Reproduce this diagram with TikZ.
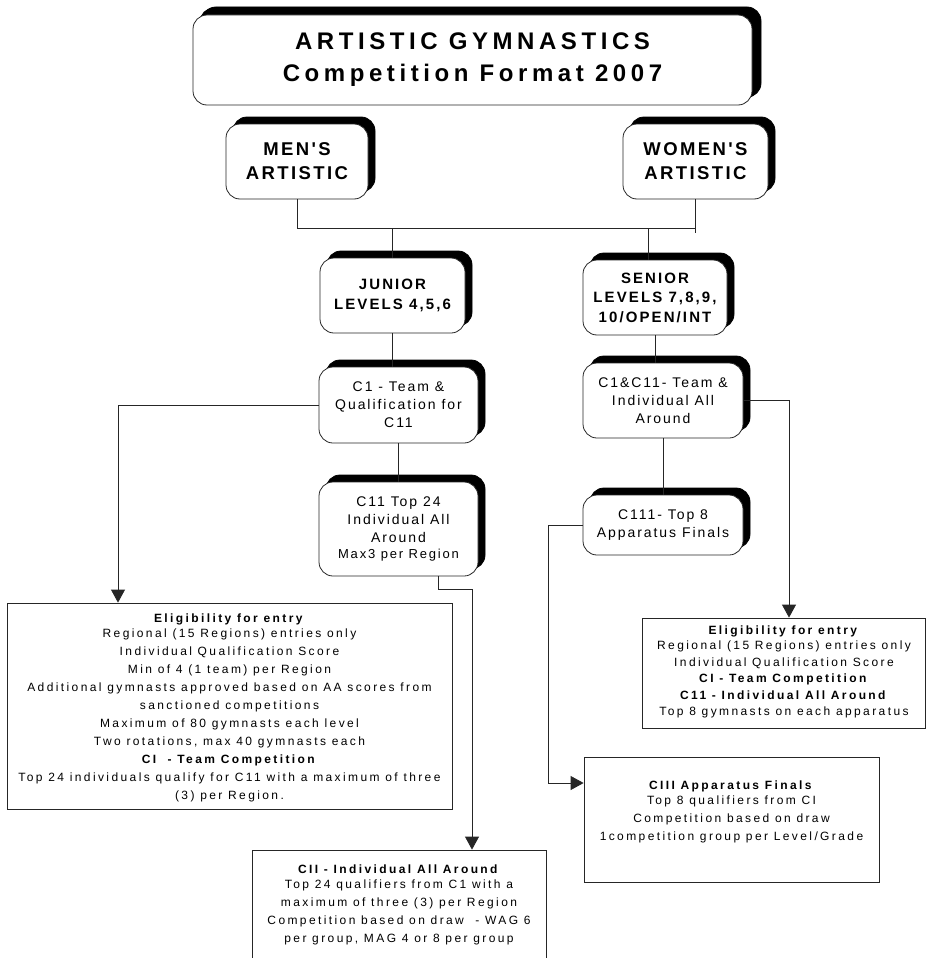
\documentclass[tikz,border=0pt]{standalone}
\usepackage{fontspec}
\setmainfont{Liberation Sans}
\usetikzlibrary{arrows.meta,shadows}
% letter-spaced Arial-metric faces for the different text sizes
\newfontfamily\fTitle[LetterSpace=19,Ligatures=NoCommon]{Liberation Sans}
\newfontfamily\fHead[LetterSpace=13,Ligatures=NoCommon]{Liberation Sans}
\newfontfamily\fLevel[LetterSpace=14,Ligatures=NoCommon]{Liberation Sans}
\newfontfamily\fComp[LetterSpace=14,Ligatures=NoCommon]{Liberation Sans}
\newfontfamily\fNote[LetterSpace=20,Ligatures=NoCommon]{Liberation Sans}
\begin{document}
\begin{tikzpicture}[x=1pt,y=-1pt,
  rbox/.style={draw=black!85, line width=0.8pt, fill=white, rounded corners=14pt,
    inner sep=0pt, align=center,
    copy shadow={shadow xshift=7pt, shadow yshift=7pt, fill=black, draw=black}},
  sbox/.style={draw=black!85, line width=0.8pt, fill=white, inner sep=0pt},
  note/.style={inner sep=0pt, align=center, font=\fNote\fontsize{12}{18}\selectfont},
  link/.style={draw=black!85, line width=0.8pt},
  arr/.style={link, -{Triangle[length=13pt,width=14pt]}},
  comp/.style={rbox, font=\fComp\fontsize{14}{18}\selectfont},
  level/.style={rbox, font=\fLevel\bfseries\fontsize{15}{20}\selectfont},
  branch/.style={rbox, font=\fHead\bfseries\fontsize{18.5}{24}\selectfont}]
\useasboundingbox (0,0) rectangle (926,958);

% title
\node[rbox, minimum width=559, minimum height=90,
  copy shadow={shadow xshift=9pt, shadow yshift=8pt, fill=black, draw=black},
  font=\fTitle\bfseries\fontsize{24}{32}\selectfont] (title) at (472.5,60)
  {ARTISTIC GYMNASTICS\\Competition Format 2007};

% branches
\node[branch, minimum width=142, minimum height=75] (men) at (297,161.5) {MEN'S\\ARTISTIC};
\node[branch, minimum width=145, minimum height=75] (women) at (695.5,161.5) {WOMEN'S\\ARTISTIC};

% levels
\node[level, minimum width=145, minimum height=75] (junior) at (392.5,295.5) {JUNIOR\\LEVELS 4,5,6};
\node[level, minimum width=144, minimum height=75, font=\fLevel\bfseries\fontsize{15}{19.5}\selectfont]
  (senior) at (655,297.5) {SENIOR\\LEVELS 7,8,9,\\10/OPEN/INT};

% competitions
\node[comp, minimum width=159, minimum height=76] (c1) at (398.5,405)
  {C1 - Team \&\\Qualification for\\C11};
\node[comp, minimum width=159, minimum height=94] (c11) at (398.5,529)
  {C11 Top 24\\Individual All\\Around\\[-2pt]{\fontsize{13}{16}\selectfont Max3 per Region}};
\node[comp, minimum width=160, minimum height=75] (c1c11) at (663,400.5)
  {C1\&C11- Team \&\\Individual All\\Around};
\node[comp, minimum width=160, minimum height=60] (c111) at (663,525)
  {C111- Top 8\\Apparatus Finals};

% note boxes
\node[sbox, minimum width=445, minimum height=206] (elig1) at (229.5,706) {};
\node[note] (elig1txt) at (229.5,708) {\textbf{Eligibility for entry}\\[-3pt]
  Regional (15 Regions) entries only\\
  Individual Qualification Score\\
  Min of 4 (1 team) per Region\\
  Additional gymnasts approved based on AA scores from\\
  sanctioned competitions\\
  Maximum of 80 gymnasts each level\\
  Two rotations, max 40 gymnasts each\\
  \textbf{CI\ \ - Team Competition}\\
  Top 24 individuals qualify for C11 with a maximum of three\\
  (3) per Region.};

\node[sbox, minimum width=283, minimum height=110] (elig2) at (783.5,673) {};
\node[note, font=\fNote\fontsize{12}{16.5}\selectfont] (elig2txt) at (784,672)
  {\textbf{Eligibility for entry}\\[-1.5pt]
  Regional (15 Regions) entries only\\
  Individual Qualification Score\\
  \textbf{CI - Team Competition}\\
  \textbf{C11 - Individual All Around}\\
  Top 8 gymnasts on each apparatus};

\node[sbox, minimum width=295, minimum height=125] (ciii) at (731.5,819.5) {};
\node[note] (ciiitxt) at (731.5,812) {\textbf{CIII Apparatus Finals}\\[-3pt]
  Top 8 qualifiers from CI\\
  Competition based on draw\\
  1competition group per Level/Grade};

\node[sbox, minimum width=294, minimum height=110] (cii) at (399,905) {};
\node[note] (ciitxt) at (399,904.5) {\textbf{CII - Individual All Around}\\[-3pt]
  Top 24 qualifiers from C1 with a\\
  maximum of three (3) per Region\\
  Competition based on draw\ \ - WAG 6\\
  per group, MAG 4 or 8 per group};

% routing helpers
\coordinate (bus) at (0,228);
\coordinate (sx) at (648,0);
\coordinate (lx) at (118,0);
\coordinate (k1) at (438,589);
\coordinate (rx) at (472,0);
\coordinate (rx2) at (789,0);
\coordinate (cx) at (548,0);
\coordinate (cy) at (0,783);

% connectors
\draw[link] (men.south) -- (men.south |- bus) -- (women.south |- bus);
\draw[link] (women.south) -- ++(0,34);
\draw[link] (junior.north |- bus) -- (junior.north);
\draw[link] (sx |- bus) -- (sx |- senior.north);
\draw[link] (junior.south) -- (junior.south |- c1.north);
\draw[link] (c1.south) -- (c11.north);
\draw[link] (senior.south) -- (senior.south |- c1c11.north);
\draw[link] (c1c11.south) -- (c111.north);
\draw[arr] (c1.west) -| (lx |- elig1.north);
\draw[arr] (k1 |- c11.south) -- (k1) -| (rx |- cii.north);
\draw[arr] (c1c11.east) -| (rx2 |- elig2.north);
\draw[arr] (c111.west) -| (cx |- cy) -- (ciii.west |- cy);
\end{tikzpicture}
\end{document}
